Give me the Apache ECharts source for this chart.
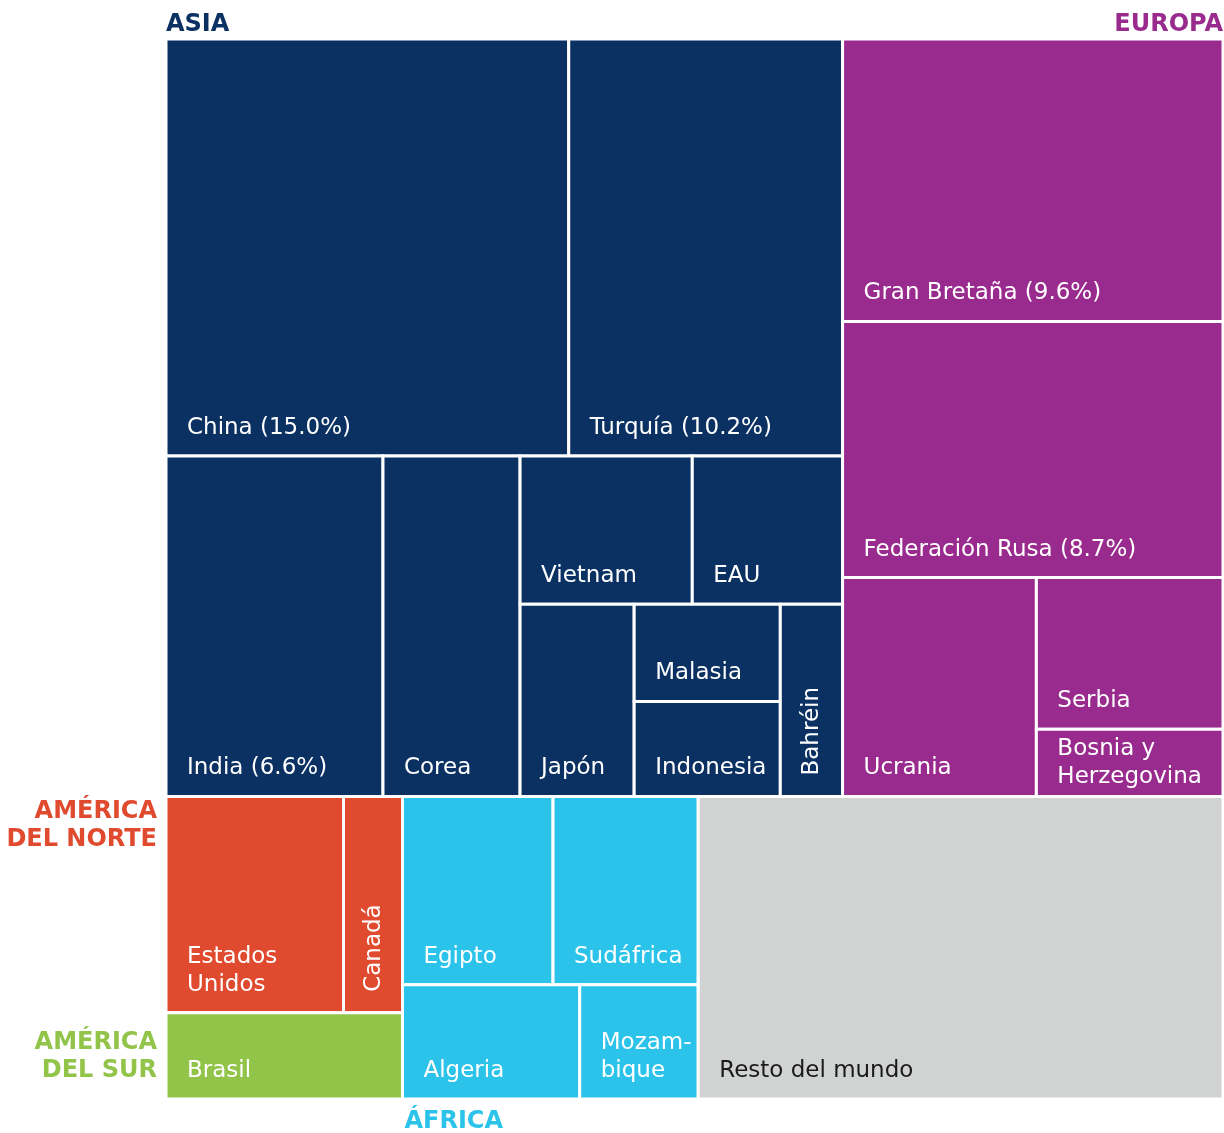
<!DOCTYPE html>
<html>
<head>
<meta charset="utf-8">
<title>Treemap destinos</title>
<script src="https://cdn.jsdelivr.net/npm/echarts@6.0.0/dist/echarts.min.js"></script>
<style>
  html, body { margin: 0; padding: 0; background: #fff; }
  #chart { width: 1224px; height: 1133px; }
</style>
</head>
<body>
<div id="chart"></div>
<script>
// datos: % del total
const asiaPaises = ['China (15.0%)', 'Turquía (10.2%)', 'India (6.6%)', 'Corea', 'Vietnam', 'EAU', 'Japón', 'Malasia', 'Indonesia', 'Bahréin'];
const asiaValores = [15.0, 10.2, 6.6, 4.17, 2.28, 1.99, 1.96, 1.27, 1.24, 1.07];
const europaPaises = ['Gran Bretaña (9.6%)', 'Federación Rusa (8.7%)', 'Ucrania', 'Serbia', 'Bosnia y\nHerzegovina'];
const europaValores = [9.6, 8.7, 3.79, 2.53, 1.12];
const nortePaises = ['Estados\nUnidos', 'Canadá'];
const norteValores = [3.43, 1.14];
const surPaises = ['Brasil'];
const surValores = [1.82];
const africaPaises = ['Egipto', 'Sudáfrica', 'Algeria', 'Mozam-\nbique'];
const africaValores = [2.53, 2.44, 1.81, 1.21];
const restoPaises = ['Resto del mundo'];
const restoValores = [14.18];
const regiones = ['ASIA', 'EUROPA', 'AMÉRICA\nDEL NORTE', 'AMÉRICA\nDEL SUR', 'ÁFRICA', ''];

const nombres = [asiaPaises, europaPaises, nortePaises, surPaises, africaPaises, restoPaises];
const valores = [asiaValores, europaValores, norteValores, surValores, africaValores, restoValores];
const colores = ['#0b3162', '#9a2b8e', '#e04a2e', '#92c44a', '#2bc3ea', '#d1d3d3'];
const textoColores = ['#fff', '#fff', '#fff', '#fff', '#fff', '#1a1a1a'];

// estructura del treemap (h = reparte en horizontal, v = en vertical); hoja = [region, pais]
const H = (...c) => ({dir: 'h', children: c});
const V = (...c) => ({dir: 'v', children: c});
const R = (r, n) => Object.assign(n, {region: r});

const arbol = V(
	H(
		R(0, V(
			H([0, 0], [0, 1]),
			H([0, 2], [0, 3], V(
				H([0, 4], [0, 5]),
				H([0, 6], V([0, 7], [0, 8]), [0, 9])
			))
		)),
		R(1, V([1, 0], [1, 1], H([1, 2], V([1, 3], [1, 4]))))
	),
	H(
		V(R(2, H([2, 0], [2, 1])), R(3, H([3, 0]))),
		R(4, V(H([4, 0], [4, 1]), H([4, 2], [4, 3]))),
		[5, 0]
	)
);

function suma(n) {
	if (Array.isArray(n)) return valores[n[0]][n[1]];
	return n.children.reduce((s, c) => s + suma(c), 0);
}

const hojas = [];
const zonas = [];
function layout(n, x0, y0, x1, y1) {
	if (Array.isArray(n)) {
		hojas.push([x0, y0, x1, y1, n[0], n[1]]);
		return;
	}
	if (n.region !== undefined) zonas.push([x0, y0, x1, y1, n.region]);
	const total = suma(n);
	let pos = n.dir === 'h' ? x0 : y0;
	n.children.forEach(c => {
		const f = suma(c) / total;
		if (n.dir === 'h') {
			const w = (x1 - x0) * f;
			layout(c, pos, y0, pos + w, y1);
			pos += w;
		} else {
			const h = (y1 - y0) * f;
			layout(c, x0, pos, x1, pos + h);
			pos += h;
		}
	});
}
layout(arbol, 0, 0, 1, 1);

const fuente = '23px "DejaVu Sans"';
const fuenteRegion = 'bold 24px "DejaVu Sans"';

const myChart = echarts.init(document.getElementById('chart'));
myChart.setOption({
	animation: false,
	grid: {left: 166, top: 39, right: 1, bottom: 34},
	xAxis: {type: 'value', min: 0, max: 1, show: false},
	yAxis: {type: 'value', min: 0, max: 1, inverse: true, show: false},
	series: [
		{
			type: 'custom',
			data: hojas,
			renderItem(params, api) {
				const p0 = api.coord([api.value(0), api.value(1)]);
				const p1 = api.coord([api.value(2), api.value(3)]);
				const r = api.value(4), i = api.value(5);
				const w = p1[0] - p0[0], h = p1[1] - p0[1];
				const nombre = nombres[r][i];
				const alto = nombre.split('\n').length * 28;
				const off = Math.min(14, (h - alto) / 2);
				const texto = w < 70 ? {
					type: 'text',
					x: p0[0] + w / 2 + 1,
					y: p1[1] - 21,
					rotation: Math.PI / 2,
					style: {text: nombre, fill: textoColores[r], font: fuente, align: 'left', verticalAlign: 'middle'}
				} : {
					type: 'text',
					x: p0[0] + 21,
					y: p1[1] - off,
					style: {text: nombre, fill: textoColores[r], font: fuente, align: 'left', verticalAlign: 'bottom', lineHeight: 28}
				};
				return {
					type: 'group',
					children: [
						{type: 'rect', shape: {x: p0[0], y: p0[1], width: w, height: h}, style: {fill: colores[r], stroke: '#fff', lineWidth: 3}},
						texto
					]
				};
			}
		},
		{
			type: 'custom',
			data: zonas,
			renderItem(params, api) {
				const p0 = api.coord([api.value(0), api.value(1)]);
				const p1 = api.coord([api.value(2), api.value(3)]);
				const r = api.value(4);
				let x, y, align = 'left', va = 'middle';
				if (r === 0) { x = p0[0]; y = p0[1] - 14; }
				else if (r === 1) { x = p1[0]; y = p0[1] - 14; align = 'right'; }
				else if (r === 2) { x = p0[0] - 9; y = p0[1] + 1; align = 'right'; va = 'top'; }
				else if (r === 3) { x = p0[0] - 9; y = (p0[1] + p1[1]) / 2 + 1; align = 'right'; }
				else { x = p0[0] + 2; y = p1[1] + 23; }
				return {
					type: 'text',
					x: x,
					y: y,
					style: {text: regiones[r], fill: colores[r], font: fuenteRegion, align: align, verticalAlign: va, lineHeight: 28}
				};
			}
		}
	]
});
</script>
</body>
</html>
